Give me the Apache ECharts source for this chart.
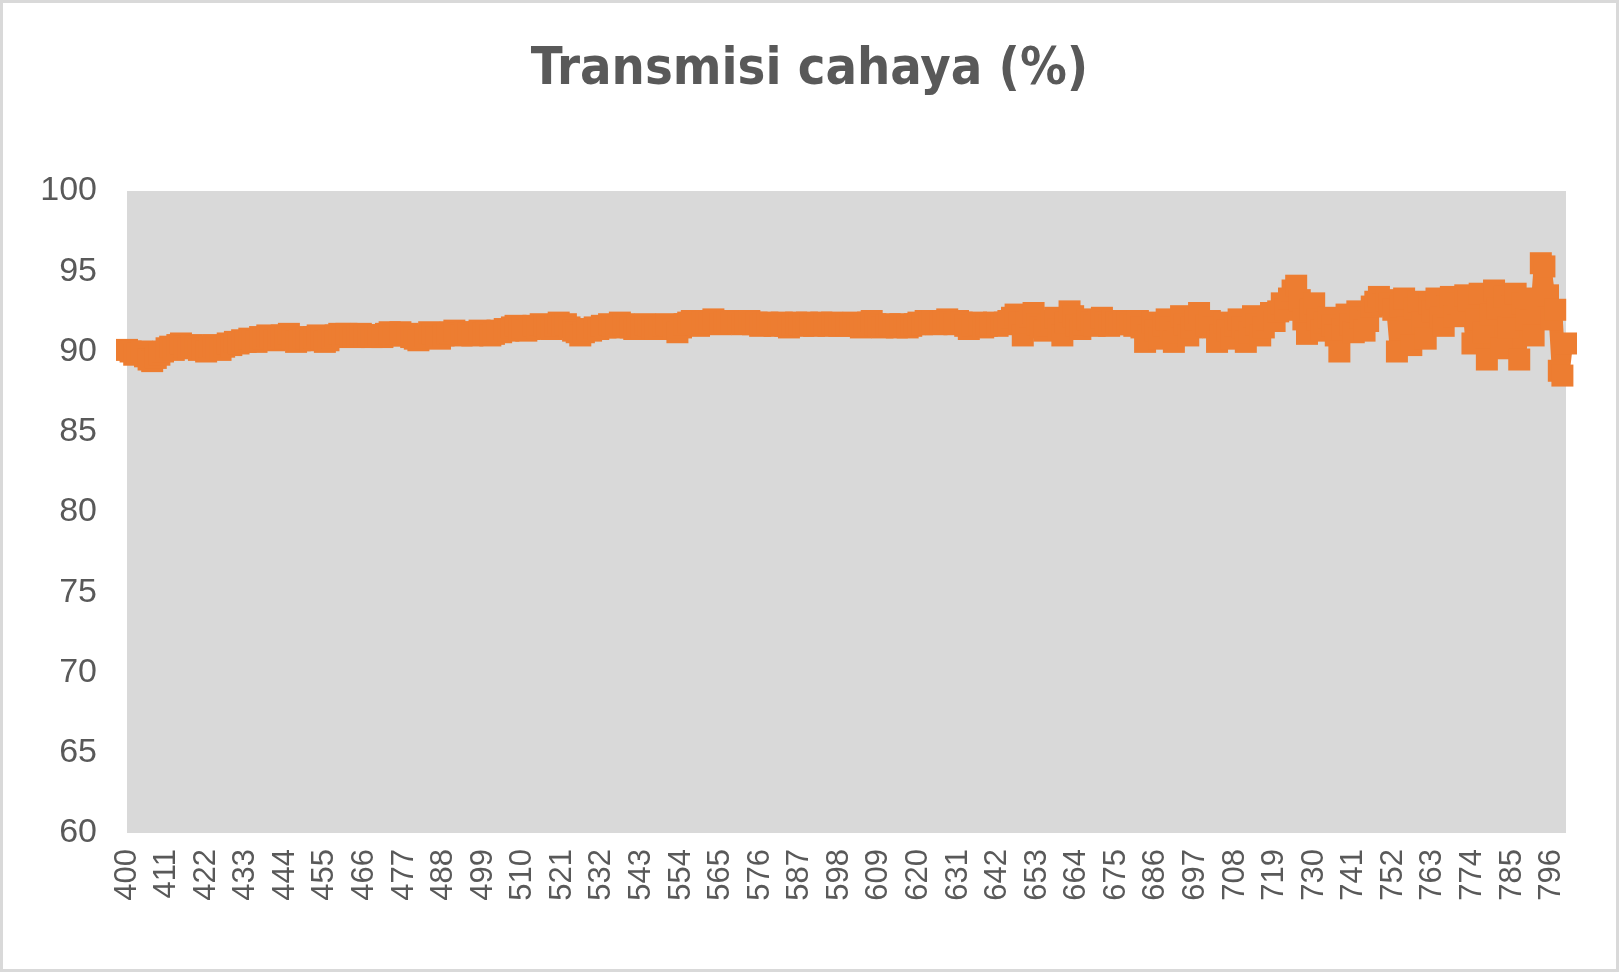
<!DOCTYPE html><html><head><meta charset="utf-8"><script src="https://cdn.jsdelivr.net/npm/echarts@6/dist/echarts.min.js"></script>
<style>html,body{margin:0;padding:0;background:#fff}#c{width:1619px;height:972px;box-sizing:border-box;border:3px solid #d9d9d9}</style></head><body><div id="c"></div><script>
const title = "Transmisi cahaya (%)";
const wavelengths = [];
for (let w = 400; w <= 800; w++) wavelengths.push(String(w));
const transmission = [
90.1,90.0,89.8,89.9,90.0,89.7,89.5,89.4,89.6,89.8,
90.0,90.2,90.3,90.1,90.4,90.5,90.3,90.2,90.4,90.3,
90.1,90.2,90.0,90.3,90.4,90.2,90.1,90.3,90.5,90.4,
90.6,90.5,90.7,90.6,90.8,90.7,90.6,90.9,90.8,91.0,
90.9,90.7,90.8,91.0,90.9,91.1,90.8,90.6,90.7,90.9,
90.8,90.7,90.9,91.0,90.8,90.6,90.7,90.9,91.0,91.1,
91.0,91.1,91.0,90.9,91.0,91.1,91.0,91.0,90.9,91.0,
91.0,90.9,91.1,91.2,91.0,91.1,91.2,91.0,91.1,90.9,
90.8,90.7,90.9,91.0,91.2,91.1,90.9,90.8,91.0,91.1,
91.2,91.3,91.1,91.0,91.2,91.1,91.0,91.2,91.3,91.1,
91.2,91.0,91.1,91.3,91.2,91.4,91.3,91.5,91.6,91.4,
91.5,91.3,91.4,91.6,91.5,91.7,91.6,91.5,91.4,91.6,
91.8,91.6,91.7,91.5,91.3,91.2,91.0,91.2,91.4,91.3,
91.5,91.4,91.6,91.5,91.7,91.6,91.5,91.8,91.7,91.6,
91.5,91.4,91.6,91.5,91.7,91.6,91.5,91.4,91.5,91.6,
91.7,91.6,91.4,91.2,91.5,91.7,91.8,91.9,91.7,91.6,
91.8,91.9,91.8,92.0,91.9,91.7,91.8,91.9,91.8,91.9,
91.8,91.7,91.8,91.9,91.7,91.8,91.6,91.7,91.8,91.7,
91.6,91.7,91.8,91.6,91.5,91.7,91.8,91.7,91.6,91.8,
91.7,91.6,91.7,91.8,91.7,91.6,91.8,91.7,91.6,91.7,
91.7,91.6,91.8,91.7,91.5,91.6,91.8,91.9,91.7,91.6,
91.5,91.6,91.7,91.6,91.5,91.7,91.6,91.5,91.6,91.7,
91.8,91.7,91.9,91.8,91.9,91.7,91.8,91.9,92.0,91.8,
91.7,91.9,91.8,91.6,91.4,91.6,91.8,91.7,91.5,91.6,
91.7,91.8,91.6,91.7,91.8,91.9,92.1,92.3,91.8,91.0,
91.8,92.2,92.4,91.7,91.5,91.3,91.6,91.9,92.1,91.4,
91.0,91.8,92.5,92.2,91.6,91.4,91.7,92.0,91.8,91.6,
91.9,92.1,91.8,91.6,91.9,91.8,91.7,91.9,91.8,91.7,
91.6,91.9,91.5,90.6,91.0,91.8,91.3,90.8,91.6,92.0,
91.5,90.6,91.2,92.2,91.7,91.0,91.5,92.0,92.4,91.9,
91.6,91.9,91.5,90.6,91.0,91.8,91.3,90.8,91.6,92.0,
91.5,90.6,91.2,92.2,91.7,91.0,91.5,92.0,92.4,91.9,
92.5,93.0,92.6,93.3,93.8,94.1,93.2,92.0,91.1,92.6,
93.0,92.0,91.3,91.8,92.1,91.6,91.0,90.0,91.4,92.3,
91.7,91.2,92.5,92.1,91.3,91.9,92.8,93.1,93.4,92.9,
93.2,93.0,92.6,90.0,92.8,93.3,91.5,90.4,92.7,93.1,
91.8,90.8,93.0,92.5,93.3,92.1,91.6,92.8,93.4,92.2,
93.0,92.4,93.5,93.2,90.5,92.0,93.6,91.2,89.5,92.3,
93.8,92.7,90.2,93.4,91.5,92.8,93.6,89.5,93.0,92.0,
93.3,91.0,92.4,95.5,95.3,93.5,92.0,92.6,88.8,88.5,
90.5
];
const chart = echarts.init(document.getElementById('c'));
chart.setOption({
  animation:false,
  title:{text:title,left:'center',top:36,textStyle:{fontFamily:'DejaVu Sans Condensed, sans-serif',fontWeight:'bold',fontSize:52,color:'#595959'}},
  grid:{left:124,right:50,top:188,bottom:136,show:true,backgroundColor:'#d9d9d9',borderWidth:0},
  xAxis:{type:'category',data:wavelengths,boundaryGap:false,
    axisLine:{show:false},axisTick:{show:false},
    axisLabel:{interval:10,rotate:90,fontSize:31,color:'#595959',margin:16,fontFamily:'Liberation Sans, sans-serif'}},
  yAxis:{type:'value',min:60,max:100,interval:5,
    splitLine:{show:false},axisLine:{show:false},axisTick:{show:false},
    axisLabel:{fontSize:34,color:'#595959',margin:30,fontFamily:'Liberation Sans, sans-serif'}},
  series:[{type:'line',data:transmission,symbol:'rect',symbolSize:22,showAllSymbol:true,
    lineStyle:{color:'#ed7d31',width:14},itemStyle:{color:'#ed7d31'}}]
});
</script></body></html>
